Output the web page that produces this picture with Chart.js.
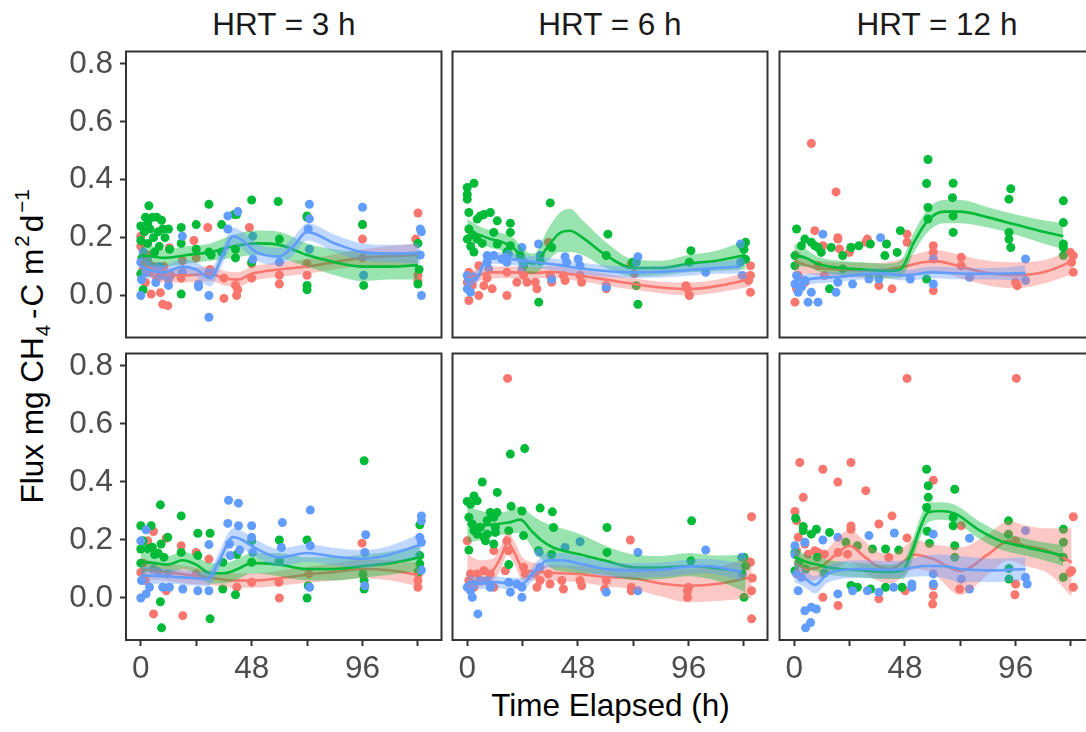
<!DOCTYPE html>
<html lang="en">
<head>
    <meta charset="UTF-8">
    <title>Flux de CH4 par HRT</title>
    <script src="https://cdn.jsdelivr.net/npm/chart.js"></script>
    <style>
        body { margin: 0; width: 1086px; height: 732px; overflow: hidden; background: #fff;
               position: relative; font-family: 'Liberation Sans', Arial, sans-serif; }
        canvas { position: absolute; }
        .strip { position: absolute; top: 9px; width: 316px; text-align: center;
                 font-size: 31.5px; line-height: 31.5px; color: #1A1A1A; white-space: nowrap; }
        #xtitle { position: absolute; left: 126px; width: 969px; top: 690px; text-align: center;
                  font-size: 31.5px; line-height: 31.5px; color: #000; white-space: nowrap; }
        #ytitle { position: absolute; left: 34px; top: 345px; white-space: nowrap;
                  font-size: 31.5px; line-height: 31.5px; color: #000;
                  transform: translate(-50%, -50%) rotate(-90deg); }
        #ytitle .sub { font-size: 0.65em; position: relative; top: 7px; margin: 0 4px 0 1px; }
        #ytitle .sup { font-size: 0.65em; position: relative; top: -14px; margin: 0 3px 0 2px; }
        #ytitle .op { margin: 0 2px; }
    </style>
</head>
<body>
    <div id="ytitle">Flux mg CH<span class="sub">4</span><span class="op">-</span>C m<span class="sup">2</span>d<span class="sup">−1</span></div>
    <div id="xtitle">Time Elapsed (h)</div>

    <script>
        // axes communs à toutes les facettes
        const facetTitles = ['HRT = 3 h', 'HRT = 6 h', 'HRT = 12 h'];
        const xTicks = [0, 24, 48, 72, 96, 120];
        const xLabelled = [0, 48, 96];
        const yTicks = [0, 0.2, 0.4, 0.6, 0.8];

        // points mesurés [temps (h), flux]
        const top3Red = [[0,0.205],[0,0.17],[0.5,0.12],[1,0.09],[2,0.045],[3,0.14],[4,0.08],[4.5,0.005],[5.5,0.1],[7,0.06],[8.5,0.01],[9.5,-0.03],[10,0.1],[11.7,-0.035],[12.4,0.165],[13,0.07],[17.5,0.06],[18,0.12],[23,0.19],[24,0.13],[29,0.235],[30,0.09],[36,-0.01],[36,0.06],[41,0.035],[41.5,0],[42,0.02],[47,0.235],[48,0.06],[48,0.11],[60,0.04],[60,0.07],[72,0.07],[72,0.11],[96,0.245],[96,0.195],[96,0.13],[120,0.285],[119,0.195],[120,0.07],[120,0.05]];
        const top3Green = [[0,0.24],[0,0.19],[0,0.075],[0.5,0.13],[1,0.02],[1.5,0.22],[2,0.27],[3,0.25],[3.5,0.31],[3,0.18],[4,0.23],[5,0.27],[5.5,0.2],[6,0.15],[7,0.27],[7.5,0.22],[8,0.17],[9,0.26],[9.5,0.23],[10.5,0.2],[12,0.23],[12.5,0.16],[17.5,0.235],[17.5,0.18],[17.5,0.005],[24,0.245],[24,0.16],[29.5,0.315],[29.5,0.15],[30.5,0.14],[35,0.245],[35,0.15],[40.5,0.28],[41.5,0.28],[41,0.16],[41,0.13],[48,0.33],[48,0.115],[59.5,0.325],[60,0.195],[72,0.275],[72,0.27],[72,0.035],[72,0.02],[96,0.245],[96.5,0.035],[120,0.18],[120.5,0.09],[120,0.04]];
        const top3Blue = [[0,0],[0,0.115],[0.3,0.055],[1,0.15],[2.3,0.08],[3,0.12],[4.5,0.1],[6.5,0.045],[8,0.1],[9,0.07],[12,0.057],[12,0.035],[18,0.205],[18,0.08],[25,0.04],[25,0.03],[29.5,0],[29.5,-0.075],[29.5,0.08],[37.7,0.275],[37.7,0.23],[42,0.29],[48.5,0.205],[48.5,0.125],[60,0.115],[73,0.315],[73,0.265],[72.5,0.23],[73,0.16],[96,0.305],[96.5,0.07],[121,0.23],[121.5,0.22],[121.5,0],[121,0.14]];

        const top6Red = [[0.7,-0.017],[0,0.046],[2.2,0.035],[0.7,0.08],[5,0],[5,0.103],[7.2,0.034],[8.6,0.06],[10.8,0.023],[17.2,0],[17.2,0.08],[21.5,0.046],[24.4,0.069],[25.9,0.046],[29.5,0.046],[30.2,0.023],[35.2,0.184],[35.9,0.069],[36.6,0.046],[41.7,0.069],[42.4,0.052],[48.9,0.069],[49.6,0.046],[60.3,0.034],[60.3,0.023],[71.1,0.109],[72.5,0.075],[94.8,0.034],[96.3,0],[95.5,0.023],[122.8,0.103],[122.8,0.069],[122.8,0.011],[122,0.052]];
        const top6Green = [[0,0.373],[2.9,0.388],[0,0.35],[0,0.333],[0.7,0.287],[0,0.195],[1.5,0.17],[0.7,0.23],[2.2,0.21],[4.3,0.264],[5.7,0.275],[7.2,0.28],[10,0.287],[13,0.258],[11.5,0.218],[4.3,0.195],[2.9,0.15],[6.5,0.18],[13,0.178],[18.7,0.25],[18.7,0.218],[18.7,0.172],[17.2,0.15],[23,0.138],[24.4,0.103],[31,-0.023],[31.6,0.12],[36,0.32],[36.6,0.166],[61,0.212],[60.3,0.138],[73.3,0.034],[74,-0.03],[71.8,0.115],[97,0.155],[96.3,0.115],[120.7,0.184],[120,0.16],[120.7,0.125],[119.3,0.172]];
        const top6Blue = [[0,0.069],[0,0.023],[0.7,0.052],[1.4,0.011],[2.9,0.063],[8.6,0.138],[8.6,0.115],[9.3,0.092],[11.5,0.138],[17.2,0.115],[17.9,0.143],[15,0.126],[23.7,0.166],[24.4,0.115],[23.7,0.092],[30.9,0.178],[31.6,0.138],[36.6,0.057],[42.4,0.134],[43.1,0.115],[48.1,0.126],[48.9,0.103],[60.3,0.029],[74,0.134],[73.3,0.115],[103.4,0.08],[118.5,0.178],[118.5,0.115],[119.3,0.069]];

        const top12Red = [[7.4,0.525],[18.1,0.358],[8.9,0.224],[12.4,0.172],[18.9,0.2],[18.9,0.195],[19.6,0.161],[24.6,0.166],[23.9,0.149],[31.7,0.195],[31,0.184],[36.7,0.034],[42.4,0.023],[48.9,0.212],[48.9,0.184],[60.3,0.172],[60.3,0.149],[60.3,0.017],[72.4,0.132],[72.4,0.103],[96,0.046],[96.7,0.034],[121,0.138],[121,0.08],[120.3,0.115],[119.6,0.149],[0.3,-0.023],[1.7,0.069],[1,0.023],[4.6,0.046],[13.1,0.069],[10.3,0.103]];
        const top12Green = [[1,0.23],[0.3,0.138],[0.3,0.103],[3.1,0.172],[4.6,0.195],[7.4,0.184],[8.9,0.172],[10.3,0.166],[11.7,0.149],[16,0.166],[15.3,0.023],[21,0.138],[21,0.092],[24.6,0.166],[28,0.172],[33,0.178],[40,0.178],[39.3,0.138],[46,0.224],[44.6,0.149],[58,0.47],[57.4,0.387],[58,0.304],[58,0.264],[57.4,0.057],[68.9,0.388],[68.6,0.338],[68.9,0.275],[68.9,0.218],[93.9,0.369],[93.1,0.333],[93.1,0.218],[93.1,0.195],[93.9,0.166],[116.7,0.327],[116.7,0.252],[116.7,0.178],[116.7,0.166],[116.7,0.138]];
        const top12Blue = [[0.3,0.04],[1.7,0.011],[1,0.069],[3.1,0.029],[4.6,0.052],[6,-0.023],[10.3,-0.023],[7.4,0.011],[12.4,0.212],[18.1,0.011],[18.9,0.046],[25.3,0.04],[32.4,0.057],[37.4,0.2],[36.7,0.057],[50.3,0.057],[60.3,0.126],[60.3,0.04],[76,0.063],[100.3,0.126],[100.3,0.052]];

        const bot3Red = [[0,0.088],[1,0.12],[3,0.197],[5.5,0.229],[5.5,-0.055],[2,0.06],[11,0.206],[11,0.025],[18.2,-0.061],[17.5,0.18],[24,0.157],[24,0.083],[29.5,0.134],[41.6,0.037],[48,0.054],[59.8,0.054],[60,0],[72.8,0.083],[95.8,0.189],[120,0.06],[120,0.037],[120.3,0.083]];
        const bot3Green = [[0,0.249],[4.5,0.249],[0,0.169],[1,0.197],[0,0.12],[3,0.17],[5,0.175],[6,0.15],[7.5,0.155],[8.8,0.186],[8.5,0.321],[8.5,-0.013],[9,-0.103],[11.7,0.209],[10,0.14],[17.5,0.283],[17.5,0.157],[24.7,0.223],[24.7,0.146],[30,0.223],[30,-0.072],[35.5,0.123],[35.5,0.031],[41,0.011],[41.6,0.15],[48,0.197],[48,0.123],[60,0.2],[60,0.128],[72,0.2],[72,0],[72.5,0.042],[96.7,0.473],[96.7,0.06],[96.7,0.031],[96.2,0.083],[120.8,0.252],[120.8,0.146],[120.8,0.117],[120,0.09]];
        const bot3Blue = [[0,0.197],[0,0],[0.3,0.06],[2.3,0.235],[2.3,0.014],[3.8,0.037],[5.3,0.1],[7.5,0.09],[9.5,0.037],[11.7,0.083],[12.4,0.037],[18.2,0.031],[24.7,0.025],[29.5,0.184],[29.5,0.025],[38,0.337],[37.7,0.257],[38.4,0.186],[38.7,0.146],[42.3,0.327],[42.3,0.249],[42.8,0.165],[48,0.249],[48,0.209],[48.5,0.157],[61.3,0.26],[60.9,0.174],[73.4,0.303],[73.4,0.18],[73.1,0.037],[97.4,0.218],[97,0.157],[97,0.042],[121.5,0.283],[121.5,0.266],[121.5,0.192],[121.5,0.096],[120.8,0.209]];

        const bot6Red = [[17.5,0.757],[0,0.197],[1.4,0.083],[2.9,0.037],[0.7,0.06],[4.3,0.083],[7.2,0.094],[10,0.083],[11.5,0.037],[11.5,0.163],[17.2,0.197],[17.9,0.163],[16.5,0.094],[24.4,0.106],[25.1,0.083],[29.5,0.083],[30.2,0.037],[31.6,0.06],[35.2,0.083],[35.9,0.048],[41.7,0.031],[41,0.06],[48.9,0.06],[49.6,0.042],[59.6,0.031],[60.3,0.06],[70.7,0.2],[71.1,0.037],[71.1,0.025],[95.5,0.002],[95.5,0.025],[96,0.037],[123.3,0.28],[122.8,0.123],[123.6,0.069],[123.3,0.025],[123.3,-0.072]];
        const bot6Green = [[0,0.333],[2.9,0.352],[1.4,0.323],[4.3,0.335],[6.5,0.4],[13,0.364],[0.7,0.278],[2.2,0.255],[2.9,0.232],[5.7,0.244],[8.6,0.267],[10,0.295],[11.5,0.278],[12.2,0.226],[12.9,0.295],[7.9,0.197],[7.2,0.21],[0.7,0.165],[4.3,0.22],[8.6,0.22],[11.5,0.186],[12.2,0.244],[18.7,0.496],[24.9,0.515],[19,0.316],[18,0.232],[18,0.115],[23.7,0.3],[24.4,0.215],[31.6,0.31],[30.9,0.163],[36.9,0.297],[37.4,0.243],[36.6,0.15],[60.6,0.243],[60.6,0.157],[97.3,0.266],[97,0.128],[120,0.002],[120,0.14],[120.7,0.11]];
        const bot6Blue = [[0,0.037],[2.2,0.002],[4.6,-0.055],[1.4,0.025],[2.9,0.048],[5.7,0.06],[8.6,0.06],[10,0.037],[18,0.054],[18.7,0.02],[21.5,0.048],[23.7,0.002],[23.7,0.037],[31.2,0.157],[31.6,0.106],[42.4,0.174],[48.9,0.194],[60.3,0.02],[74,0.157],[74,0.025],[103.4,0.165],[119,0.14],[119.3,0.083]];

        const bot12Red = [[48.9,0.757],[96.3,0.757],[2.4,0.467],[12.4,0.444],[24.6,0.467],[18.9,0.4],[3.9,0.347],[31,0.37],[0.3,0.298],[1,0.266],[1.7,0.209],[1,0.163],[4.6,0.186],[60.3,0.406],[42.4,0.283],[36.7,0.255],[121,0.28],[120.3,0.094],[121,0.037],[119.6,0.088],[24.6,0.237],[24.6,0.248],[19,0.157],[23.1,0.151],[19,-0.026],[12.4,0.002],[8.9,0.163],[6,0.151],[10.3,0.157],[48.9,0.207],[48.1,0.025],[60.3,0.042],[60.3,0.008],[60,-0.021],[72.4,0.249],[71.7,0.031],[96,0.197],[96,0.048],[95.7,0.011],[36.7,-0.003],[41,0.14],[13.1,0.151]];
        const bot12Green = [[0.6,0.275],[3.9,0.246],[3.9,0.232],[7.4,0.22],[9.6,0.237],[15.3,0.226],[0.3,0.157],[0.3,0.094],[22.4,0.192],[27.4,0.18],[33.9,0.169],[39.6,0.169],[45.3,0.165],[24.6,0.043],[27.4,0.037],[33.1,0.031],[39.6,0.037],[46.7,0.037],[57.4,0.444],[58.1,0.387],[58.1,0.347],[57.4,0.312],[57.7,0.23],[58.6,0.188],[69.6,0.375],[68.9,0.278],[68.9,0.249],[69.6,0.18],[69.6,0.14],[92.9,0.266],[92.9,0.22],[93.1,0.102],[93.1,0.065],[116.7,0.237],[116.7,0.192],[116.7,0.14],[116.7,0.071],[2,0.12],[5,0.1],[10,0.14],[13,0.085]];
        const bot12Blue = [[0.3,0.18],[0.3,0.15],[1,0.083],[1.7,0.025],[3.1,0.071],[4.6,0.192],[4.6,-0.044],[7.4,-0.032],[9.6,-0.038],[4.9,-0.103],[7.1,-0.085],[12.4,0.2],[18.9,0.209],[18.9,0.014],[25.3,0.025],[32.4,0.215],[31.7,0.025],[36.7,0.02],[43.4,0.224],[43.1,0.037],[51,0.048],[51,0.037],[60.3,0.22],[60.3,0.083],[60.3,0.048],[72.4,0.065],[76,0.206],[76,0.031],[100.3,0.232],[101,0.048],[100.3,0.071]];

        // courbes lissées [temps, ajustement, borne basse, borne haute]
        const fitTop3Red = [[0,0.12,0.08,0.16],[5,0.09,0.06,0.12],[10,0.07,0.045,0.095],[20,0.07,0.045,0.095],[30,0.075,0.05,0.1],[36,0.06,0.035,0.085],[42,0.055,0.03,0.08],[48,0.075,0.05,0.1],[60,0.09,0.065,0.115],[72,0.1,0.075,0.125],[96,0.13,0.1,0.16],[120,0.14,0.1,0.18]];
        const fitTop3Green = [[0,0.14,0.1,0.19],[5,0.135,0.1,0.17],[10,0.13,0.1,0.16],[20,0.14,0.11,0.17],[30,0.15,0.12,0.18],[40,0.17,0.13,0.21],[50,0.18,0.14,0.225],[60,0.175,0.13,0.22],[72,0.14,0.1,0.18],[84,0.115,0.07,0.16],[96,0.1,0.05,0.15],[108,0.1,0.055,0.145],[120,0.105,0.055,0.155]];
        const fitTop3Blue = [[0,0.1,0.06,0.14],[5,0.085,0.06,0.11],[10,0.08,0.055,0.105],[18,0.1,0.075,0.125],[24,0.09,0.065,0.115],[30,0.06,0.03,0.09],[35,0.13,0.1,0.16],[40,0.205,0.175,0.235],[44,0.19,0.16,0.22],[50,0.15,0.12,0.18],[60,0.135,0.105,0.165],[66,0.17,0.14,0.2],[72,0.22,0.19,0.25],[84,0.18,0.15,0.21],[96,0.15,0.12,0.18],[108,0.145,0.115,0.175],[121,0.145,0.11,0.18]];

        const fitTop6Red = [[0,0.06,0.035,0.085],[5,0.07,0.05,0.09],[10,0.08,0.06,0.1],[20,0.08,0.06,0.1],[30,0.078,0.058,0.098],[36,0.082,0.062,0.102],[48,0.07,0.05,0.09],[60,0.055,0.035,0.075],[72,0.04,0.02,0.06],[84,0.028,0.008,0.048],[96,0.022,0,0.045],[110,0.035,0.012,0.058],[122.8,0.057,0.03,0.085]];
        const fitTop6Green = [[0,0.22,0.175,0.265],[5,0.21,0.18,0.24],[10,0.195,0.165,0.225],[15,0.185,0.155,0.215],[20,0.165,0.13,0.2],[25,0.12,0.085,0.155],[29,0.11,0.075,0.145],[35,0.17,0.12,0.23],[40,0.215,0.15,0.285],[44.5,0.224,0.15,0.3],[50,0.2,0.14,0.26],[60,0.14,0.095,0.185],[72,0.095,0.065,0.125],[84,0.095,0.07,0.12],[96,0.11,0.08,0.14],[108,0.12,0.085,0.155],[120.7,0.14,0.09,0.19]];
        const fitTop6Blue = [[0,0.055,0.03,0.08],[4,0.06,0.04,0.085],[8,0.12,0.1,0.14],[12,0.13,0.11,0.15],[20,0.125,0.105,0.145],[30,0.115,0.095,0.135],[40,0.105,0.085,0.125],[48,0.095,0.075,0.115],[60,0.085,0.065,0.105],[72,0.08,0.06,0.1],[84,0.082,0.062,0.102],[96,0.088,0.068,0.108],[108,0.095,0.075,0.115],[118.5,0.1,0.075,0.125]];

        const fitTop12Red = [[0,0.12,0.08,0.16],[5,0.105,0.075,0.135],[10,0.095,0.07,0.12],[20,0.09,0.065,0.115],[30,0.087,0.062,0.112],[40,0.09,0.065,0.115],[48,0.1,0.07,0.13],[56,0.115,0.08,0.15],[62,0.118,0.08,0.156],[72,0.1,0.06,0.14],[84,0.078,0.035,0.12],[96,0.07,0.025,0.115],[110,0.085,0.045,0.125],[121,0.12,0.075,0.165]];
        const fitTop12Green = [[0,0.14,0.1,0.18],[5,0.13,0.1,0.16],[10,0.11,0.085,0.135],[20,0.095,0.07,0.12],[30,0.09,0.065,0.115],[40,0.085,0.06,0.11],[46,0.09,0.06,0.12],[52,0.185,0.15,0.22],[58,0.26,0.22,0.3],[65,0.29,0.25,0.33],[72,0.29,0.25,0.33],[84,0.27,0.235,0.305],[96,0.245,0.21,0.28],[108,0.22,0.18,0.26],[116.7,0.205,0.16,0.25]];
        const fitTop12Blue = [[0,0.05,0.025,0.075],[5,0.055,0.035,0.075],[10,0.06,0.042,0.078],[20,0.065,0.048,0.082],[30,0.073,0.056,0.09],[38,0.076,0.059,0.093],[48,0.07,0.052,0.088],[60,0.08,0.06,0.1],[72,0.076,0.056,0.096],[86,0.075,0.055,0.095],[100.3,0.078,0.052,0.104]];

        const fitBot3Red = [[0,0.1,0.065,0.135],[10,0.09,0.06,0.12],[20,0.08,0.05,0.11],[30,0.07,0.045,0.095],[40,0.06,0.035,0.085],[48,0.06,0.035,0.085],[60,0.068,0.042,0.094],[72,0.08,0.052,0.108],[84,0.09,0.06,0.12],[96,0.1,0.068,0.132],[108,0.095,0.06,0.13],[120,0.08,0.04,0.12]];
        const fitBot3Green = [[0,0.125,0.085,0.165],[6,0.12,0.09,0.15],[12,0.115,0.085,0.145],[18,0.13,0.1,0.16],[24,0.115,0.085,0.145],[30,0.085,0.05,0.12],[36,0.085,0.05,0.12],[42,0.1,0.065,0.135],[48,0.12,0.085,0.155],[60,0.115,0.075,0.155],[72,0.1,0.06,0.14],[84,0.1,0.06,0.14],[96,0.11,0.07,0.15],[108,0.12,0.08,0.16],[120.8,0.14,0.095,0.185]];
        const fitBot3Blue = [[0,0.078,0.045,0.11],[10,0.075,0.05,0.1],[20,0.07,0.045,0.095],[29,0.065,0.04,0.09],[34,0.13,0.1,0.16],[40,0.21,0.18,0.24],[44,0.2,0.17,0.23],[50,0.17,0.14,0.2],[60,0.14,0.11,0.17],[72,0.155,0.125,0.185],[84,0.142,0.112,0.172],[96,0.135,0.105,0.165],[108,0.15,0.12,0.18],[121.5,0.185,0.145,0.225]];

        const fitBot6Red = [[0,0.09,0.03,0.15],[6,0.085,0.04,0.13],[11,0.095,0.055,0.135],[14.5,0.14,0.1,0.18],[17.5,0.19,0.15,0.23],[20.5,0.155,0.115,0.195],[24,0.1,0.06,0.14],[30,0.09,0.06,0.12],[40,0.085,0.058,0.112],[48,0.083,0.055,0.111],[60,0.072,0.04,0.104],[72,0.068,0.03,0.106],[84,0.05,0.005,0.095],[96,0.042,-0.015,0.1],[110,0.05,-0.01,0.11],[123.3,0.072,0,0.145]];
        const fitBot6Green = [[0,0.255,0.19,0.32],[6,0.25,0.2,0.3],[13,0.255,0.215,0.295],[18,0.26,0.22,0.3],[23,0.27,0.225,0.315],[28,0.23,0.175,0.285],[32,0.2,0.135,0.265],[37,0.175,0.1,0.25],[43,0.16,0.09,0.235],[49,0.15,0.085,0.22],[60,0.128,0.08,0.18],[72,0.106,0.062,0.15],[84,0.105,0.065,0.145],[96,0.11,0.075,0.155],[108,0.103,0.06,0.146],[120.7,0.088,0.02,0.15]];
        const fitBot6Blue = [[0,0.055,0.03,0.08],[6,0.05,0.03,0.07],[12,0.055,0.035,0.075],[18,0.05,0.03,0.07],[24,0.05,0.03,0.07],[30,0.1,0.075,0.125],[35,0.13,0.105,0.155],[41,0.13,0.105,0.155],[48,0.12,0.095,0.145],[60,0.1,0.075,0.125],[72,0.095,0.07,0.12],[84,0.097,0.072,0.122],[96,0.108,0.083,0.133],[103.4,0.11,0.085,0.135],[119,0.09,0.06,0.12]];

        const fitBot12Red = [[0,0.12,0.07,0.17],[6,0.1,0.06,0.14],[12,0.11,0.07,0.15],[18,0.15,0.1,0.2],[24,0.18,0.125,0.235],[30,0.145,0.09,0.2],[36,0.11,0.06,0.16],[42,0.1,0.05,0.15],[48,0.13,0.08,0.18],[52,0.15,0.1,0.2],[60,0.135,0.085,0.185],[72,0.093,0.01,0.175],[84,0.15,0.08,0.22],[93,0.197,0.13,0.265],[100,0.18,0.11,0.25],[110,0.163,0.085,0.24],[120.3,0.123,0.005,0.24]];
        const fitBot12Green = [[0,0.142,0.11,0.175],[5,0.125,0.1,0.15],[10,0.115,0.09,0.14],[15,0.105,0.08,0.13],[20,0.1,0.075,0.125],[30,0.095,0.07,0.12],[40,0.09,0.065,0.115],[47,0.095,0.065,0.125],[51,0.16,0.125,0.195],[55,0.25,0.215,0.285],[58,0.295,0.26,0.33],[64,0.3,0.27,0.33],[70,0.29,0.26,0.32],[80,0.235,0.205,0.265],[90,0.195,0.165,0.225],[96,0.183,0.153,0.213],[106,0.165,0.135,0.195],[116.7,0.146,0.11,0.182]];
        const fitBot12Blue = [[0,0.09,0.055,0.125],[5,0.065,0.035,0.095],[9,0.045,0.015,0.075],[14,0.08,0.05,0.11],[20,0.095,0.065,0.125],[30,0.1,0.07,0.13],[40,0.097,0.067,0.127],[48,0.1,0.07,0.13],[56,0.11,0.075,0.145],[64,0.11,0.07,0.15],[72,0.1,0.055,0.145],[86,0.095,0.055,0.135],[100.3,0.1,0.06,0.14]];

        const COLORS = { red: '#F8766D', green: '#00BA38', blue: '#619CFF' };
        const RIBBONS = { red: 'rgba(248,118,109,0.4)', green: 'rgba(0,186,56,0.4)', blue: 'rgba(97,156,255,0.4)' };
        const FONT = { family: "'Liberation Sans', Arial, sans-serif", size: 31.5 };

        // position des panneaux dans la page
        const PANEL_LEFT = [126, 452, 779];
        const PANEL_TOP = [51, 353];
        const PANEL_W = 316, PANEL_H = 287;

        const panels = [
            { row: 0, col: 0, pts: { red: top3Red, green: top3Green, blue: top3Blue }, fit: { red: fitTop3Red, green: fitTop3Green, blue: fitTop3Blue } },
            { row: 0, col: 1, pts: { red: top6Red, green: top6Green, blue: top6Blue }, fit: { red: fitTop6Red, green: fitTop6Green, blue: fitTop6Blue } },
            { row: 0, col: 2, pts: { red: top12Red, green: top12Green, blue: top12Blue }, fit: { red: fitTop12Red, green: fitTop12Green, blue: fitTop12Blue } },
            { row: 1, col: 0, pts: { red: bot3Red, green: bot3Green, blue: bot3Blue }, fit: { red: fitBot3Red, green: fitBot3Green, blue: fitBot3Blue } },
            { row: 1, col: 1, pts: { red: bot6Red, green: bot6Green, blue: bot6Blue }, fit: { red: fitBot6Red, green: fitBot6Green, blue: fitBot6Blue } },
            { row: 1, col: 2, pts: { red: bot12Red, green: bot12Green, blue: bot12Blue }, fit: { red: fitBot12Red, green: fitBot12Green, blue: fitBot12Blue } }
        ];

        // cadre gris foncé autour de chaque panneau
        const panelFrame = {
            id: 'panelFrame',
            afterDraw(chart) {
                const { ctx, chartArea: a } = chart;
                ctx.save();
                ctx.strokeStyle = '#333333';
                ctx.lineWidth = 2;
                ctx.strokeRect(a.left, a.top, a.right - a.left, a.bottom - a.top);
                ctx.restore();
            }
        };

        function fixedSize(prop, size) {
            return scale => {
                scale[prop] = size;
                scale.paddingLeft = scale.paddingRight = scale.paddingTop = scale.paddingBottom = 0;
            };
        }

        function buildDatasets(p) {
            const groups = ['red', 'green', 'blue'];
            const ds = [];
            groups.forEach((g, i) => {
                ds.push({
                    type: 'scatter', data: p.pts[g].map(([x, y]) => ({ x, y })),
                    backgroundColor: COLORS[g], borderWidth: 0, pointRadius: 4.5, order: 100 - i
                });
            });
            groups.forEach((g, i) => {
                const f = p.fit[g], base = 60 - i * 20;
                const common = { type: 'line', pointRadius: 0, cubicInterpolationMode: 'monotone' };
                ds.push({ ...common, data: f.map(r => ({ x: r[0], y: r[2] })),
                          borderWidth: 0, borderColor: 'rgba(0,0,0,0)', fill: false, order: base });
                ds.push({ ...common, data: f.map(r => ({ x: r[0], y: r[3] })),
                          borderWidth: 0, borderColor: 'rgba(0,0,0,0)', backgroundColor: RIBBONS[g], fill: '-1', order: base - 1 });
                ds.push({ ...common, data: f.map(r => ({ x: r[0], y: r[1] })),
                          borderWidth: 2.6, borderColor: COLORS[g], fill: false, order: base - 2 });
            });
            return ds;
        }

        panels.forEach(p => {
            const L = PANEL_LEFT[p.col], T = PANEL_TOP[p.row];
            const firstCol = p.col === 0, lastRow = p.row === 1;
            const cLeft = firstCol ? 0 : L - 4;
            const xAxisH = lastRow ? 50 : 0;
            const w = (L - cLeft) + PANEL_W + 4;
            const h = 4 + PANEL_H + (lastRow ? xAxisH : 4);

            const cv = document.createElement('canvas');
            cv.width = w; cv.height = h;
            cv.style.left = cLeft + 'px'; cv.style.top = (T - 4) + 'px';
            cv.style.width = w + 'px'; cv.style.height = h + 'px';
            document.body.appendChild(cv);

            if (p.row === 0) {
                const s = document.createElement('div');
                s.className = 'strip';
                s.style.left = L + 'px';
                s.textContent = facetTitles[p.col];
                document.body.appendChild(s);
            }

            new Chart(cv, {
                type: 'scatter',
                data: { datasets: buildDatasets(p) },
                options: {
                    responsive: false, animation: false, events: [],
                    layout: { padding: { left: firstCol ? 0 : 4, top: 4, right: 4, bottom: lastRow ? 0 : 4 } },
                    plugins: { legend: { display: false }, tooltip: { enabled: false } },
                    scales: {
                        x: {
                            type: 'linear', min: -6.4, max: 130.2, display: lastRow,
                            afterBuildTicks: s => { s.ticks = xTicks.map(v => ({ value: v })); },
                            afterFit: fixedSize('height', xAxisH),
                            ticks: { autoSkip: false, maxRotation: 0, padding: 4, color: '#4D4D4D', font: FONT,
                                     callback: v => xLabelled.includes(v) ? String(v) : '' },
                            grid: { drawOnChartArea: false, drawTicks: true, tickLength: 6, tickWidth: 2, tickColor: '#333333' },
                            border: { display: false }
                        },
                        y: {
                            type: 'linear', min: -0.145, max: 0.843, display: firstCol,
                            afterBuildTicks: s => { s.ticks = yTicks.map(v => ({ value: v })); },
                            afterFit: fixedSize('width', firstCol ? L : 0),
                            ticks: { padding: 7, color: '#4D4D4D', font: FONT, callback: v => v.toFixed(1) },
                            grid: { drawOnChartArea: false, drawTicks: true, tickLength: 6, tickWidth: 2, tickColor: '#333333' },
                            border: { display: false }
                        }
                    }
                },
                plugins: [panelFrame]
            });
        });
    </script>
</body>
</html>
